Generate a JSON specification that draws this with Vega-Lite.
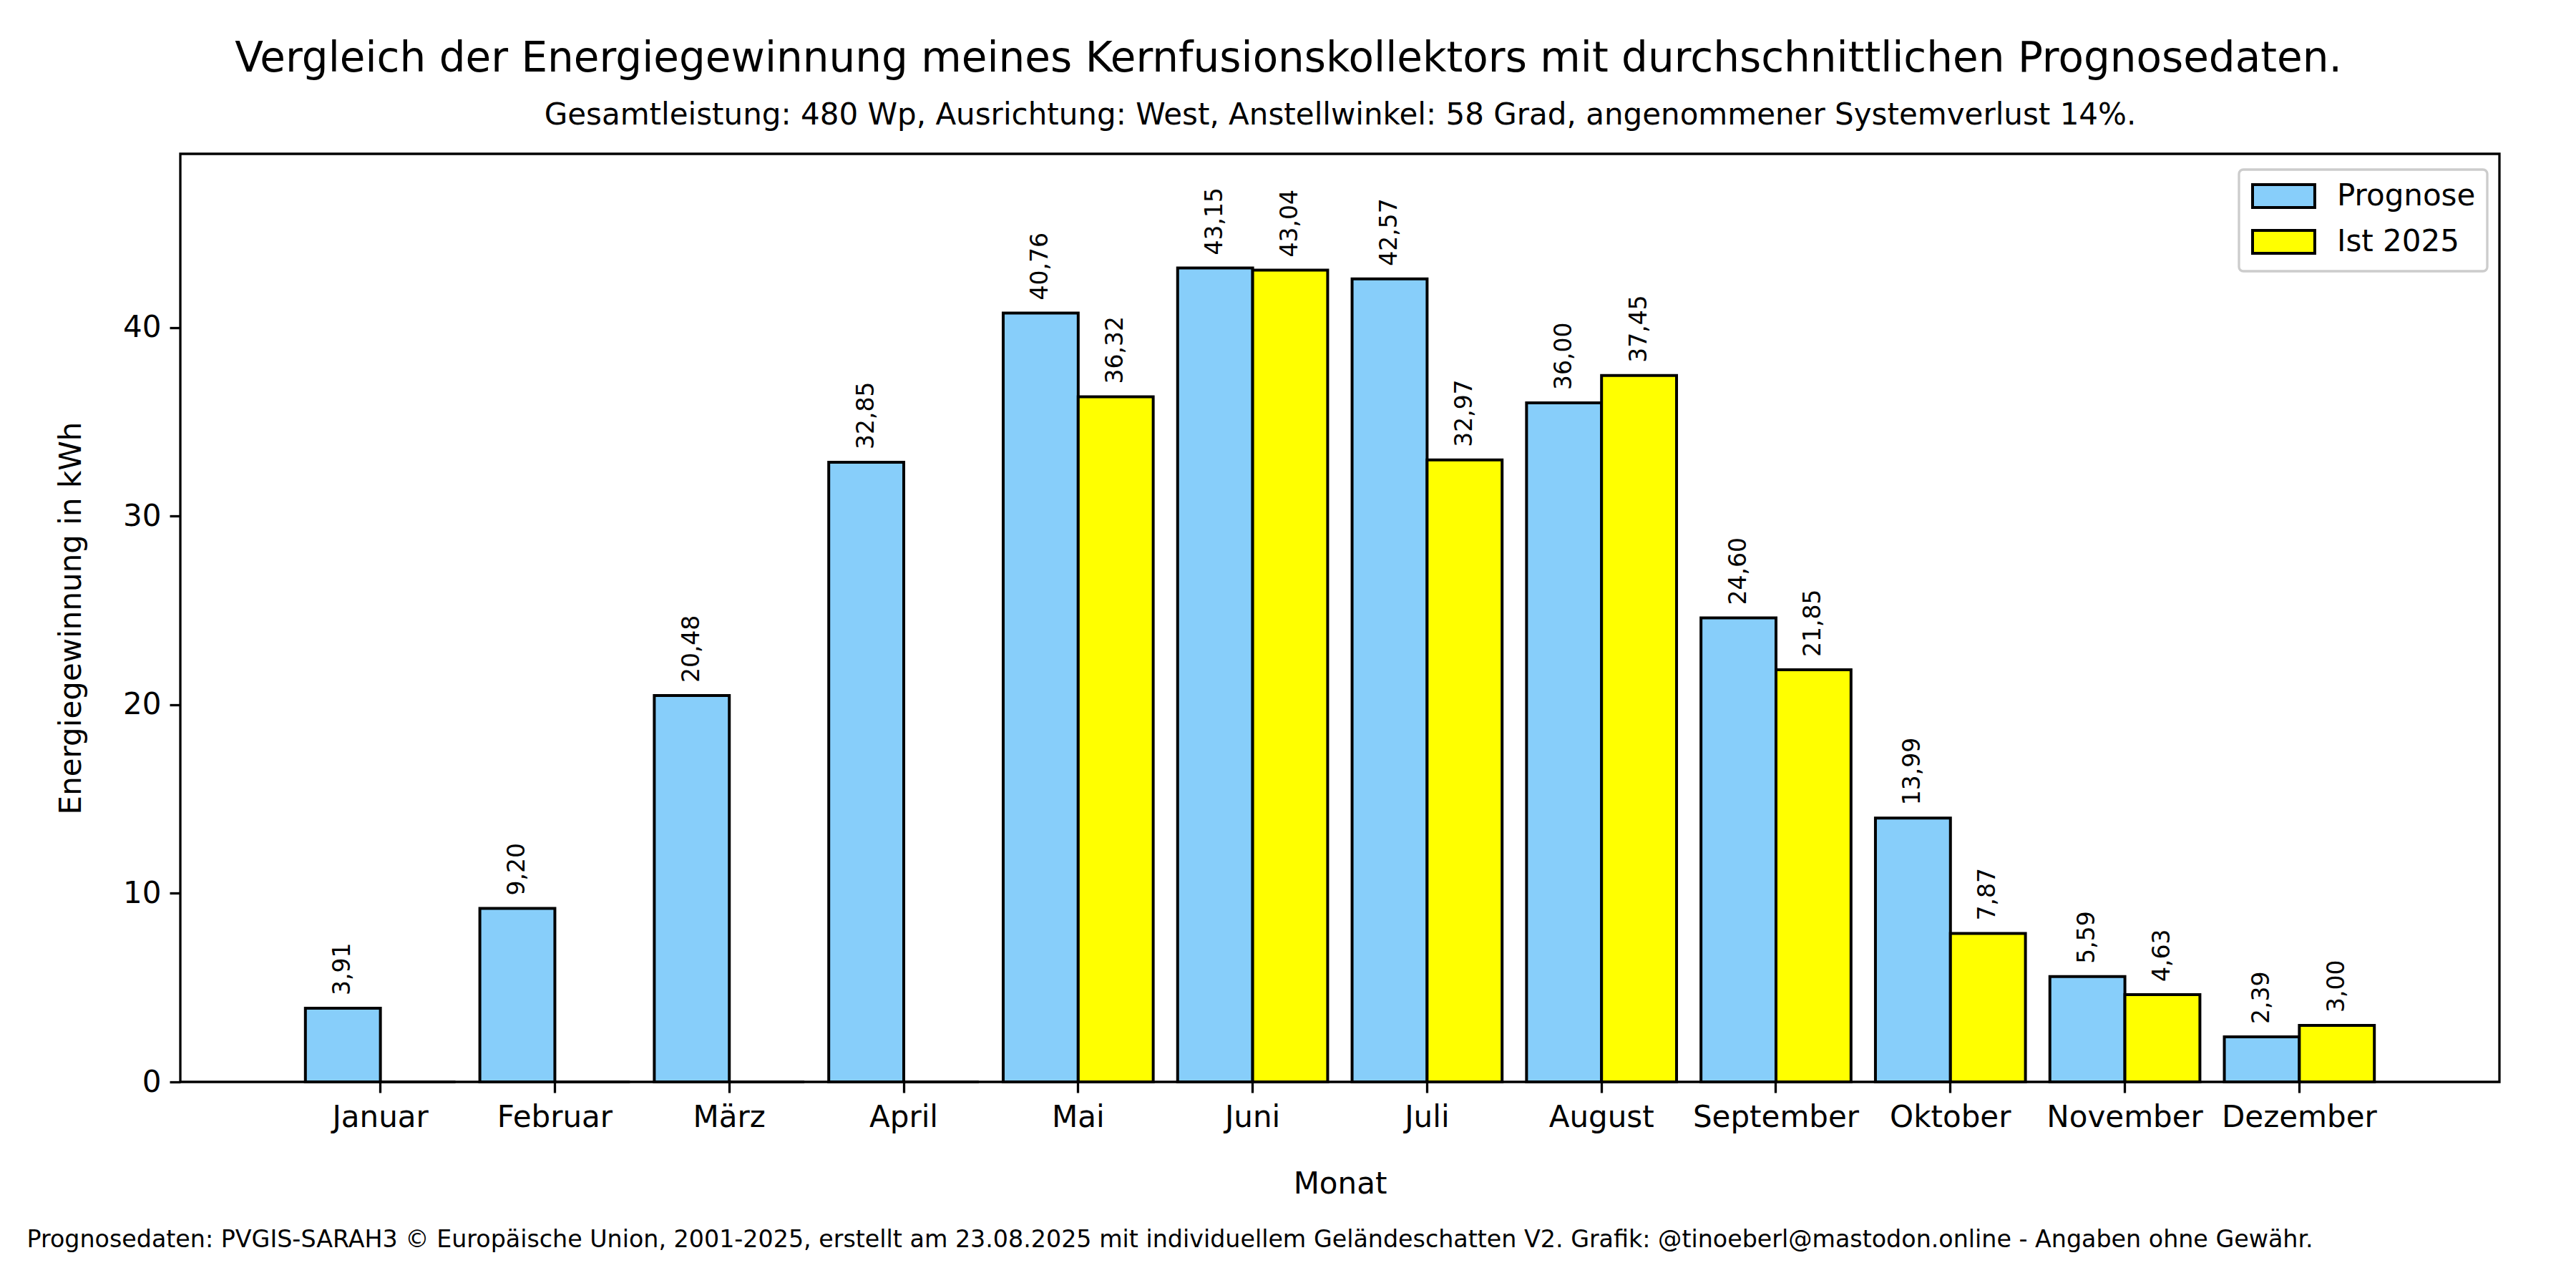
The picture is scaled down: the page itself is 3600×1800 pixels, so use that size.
{
  "$schema": "https://vega.github.io/schema/vega-lite/v6.json",
  "width": 3241,
  "height": 1297,
  "autosize": "none",
  "padding": {"left": 252, "top": 215, "right": 107, "bottom": 288},
  "background": "white",
  "config": {
    "font": "DejaVu Sans",
    "view": {"stroke": "black", "strokeWidth": 3.3},
    "locale": {"number": {"decimal": ",", "thousands": ".", "grouping": [3], "currency": ["", " €"]}}
  },
  "title": {
    "text": "Vergleich der Energiegewinnung meines Kernfusionskollektors mit durchschnittlichen Prognosedaten.",
    "fontSize": 58,
    "fontWeight": "normal",
    "color": "black",
    "anchor": "middle",
    "frame": "group",
    "baseline": "alphabetic",
    "dx": -72,
    "offset": -19
  },
  "data": {
    "values": [
      {"Monat": "Januar", "Serie": "Prognose", "Wert": 3.91},
      {"Monat": "Januar", "Serie": "Ist 2025", "Wert": 0},
      {"Monat": "Februar", "Serie": "Prognose", "Wert": 9.20},
      {"Monat": "Februar", "Serie": "Ist 2025", "Wert": 0},
      {"Monat": "März", "Serie": "Prognose", "Wert": 20.48},
      {"Monat": "März", "Serie": "Ist 2025", "Wert": 0},
      {"Monat": "April", "Serie": "Prognose", "Wert": 32.85},
      {"Monat": "April", "Serie": "Ist 2025", "Wert": 0},
      {"Monat": "Mai", "Serie": "Prognose", "Wert": 40.76},
      {"Monat": "Mai", "Serie": "Ist 2025", "Wert": 36.32},
      {"Monat": "Juni", "Serie": "Prognose", "Wert": 43.15},
      {"Monat": "Juni", "Serie": "Ist 2025", "Wert": 43.04},
      {"Monat": "Juli", "Serie": "Prognose", "Wert": 42.57},
      {"Monat": "Juli", "Serie": "Ist 2025", "Wert": 32.97},
      {"Monat": "August", "Serie": "Prognose", "Wert": 36.00},
      {"Monat": "August", "Serie": "Ist 2025", "Wert": 37.45},
      {"Monat": "September", "Serie": "Prognose", "Wert": 24.60},
      {"Monat": "September", "Serie": "Ist 2025", "Wert": 21.85},
      {"Monat": "Oktober", "Serie": "Prognose", "Wert": 13.99},
      {"Monat": "Oktober", "Serie": "Ist 2025", "Wert": 7.87},
      {"Monat": "November", "Serie": "Prognose", "Wert": 5.59},
      {"Monat": "November", "Serie": "Ist 2025", "Wert": 4.63},
      {"Monat": "Dezember", "Serie": "Prognose", "Wert": 2.39},
      {"Monat": "Dezember", "Serie": "Ist 2025", "Wert": 3.00}
    ]
  },
  "layer": [
    {
      "layer": [
        {
          "mark": {"type": "bar", "stroke": "black", "strokeWidth": 4},
          "encoding": {
            "x": {
              "field": "Monat", "type": "nominal",
              "sort": ["Januar", "Februar", "März", "April", "Mai", "Juni", "Juli", "August", "September", "Oktober", "November", "Dezember"],
              "scale": {"paddingInner": 0.14, "paddingOuter": 0.717},
              "axis": {
                "title": "Monat", "titleFontSize": 42, "titleFontWeight": "normal", "titleColor": "black", "titlePadding": 52,
                "labelFontSize": 42, "labelColor": "black", "labelPadding": 14, "labelAngle": 0, "labelLimit": 0,
                "tickSize": 15, "tickWidth": 3.3, "tickColor": "black", "domain": false, "grid": false
              }
            },
            "xOffset": {
              "field": "Serie", "type": "nominal", "sort": ["Prognose", "Ist 2025"],
              "scale": {"paddingInner": 0, "paddingOuter": 0}
            },
            "y": {
              "field": "Wert", "type": "quantitative",
              "scale": {"domain": [0, 49.2], "nice": false},
              "axis": {
                "title": "Energiegewinnung in kWh", "titleFontSize": 42, "titleFontWeight": "normal", "titleColor": "black", "titlePadding": 50,
                "values": [0, 10, 20, 30, 40], "labelFontSize": 42, "labelColor": "black", "labelPadding": 12,
                "tickSize": 15, "tickWidth": 3.3, "tickColor": "black", "domain": false, "grid": false
              }
            },
            "color": {
              "field": "Serie", "type": "nominal",
              "scale": {"domain": ["Prognose", "Ist 2025"], "range": ["#87CEFA", "#FFFF00"]},
              "legend": {
                "title": null, "orient": "none", "legendX": 2877, "legendY": 22, "direction": "vertical",
                "padding": 16, "strokeColor": "#cccccc", "fillColor": "white", "cornerRadius": 6,
                "symbolType": "M-1,-0.89H3.83V0.89H-1Z", "symbolSize": 1296, "symbolStrokeColor": "black", "symbolStrokeWidth": 4, "symbolOpacity": 1,
                "labelFontSize": 42, "labelColor": "black", "labelOffset": 79, "labelLimit": 0, "rowPadding": 14,
                "encode": {"legend": {"update": {"strokeWidth": {"value": 3.3}}}}
              }
            }
          }
        },
        {
          "transform": [{"filter": "datum.Wert > 0"}],
          "mark": {"type": "text", "angle": 270, "align": "left", "baseline": "middle", "dx": 18, "fontSize": 33, "color": "black"},
          "encoding": {
            "x": {
              "field": "Monat", "type": "nominal",
              "sort": ["Januar", "Februar", "März", "April", "Mai", "Juni", "Juli", "August", "September", "Oktober", "November", "Dezember"]
            },
            "xOffset": {"field": "Serie", "type": "nominal", "sort": ["Prognose", "Ist 2025"]},
            "y": {"field": "Wert", "type": "quantitative"},
            "text": {"field": "Wert", "type": "quantitative", "format": ".2f"}
          }
        }
      ]
    },
    {
      "mark": {"type": "point", "opacity": 0},
      "encoding": {
        "x": {
          "field": "Monat", "type": "nominal",
          "axis": {
            "orient": "top", "labels": false, "ticks": false, "domain": false, "grid": false,
            "title": "Gesamtleistung: 480 Wp, Ausrichtung: West, Anstellwinkel: 58 Grad, angenommener Systemverlust 14%.",
            "titleFontSize": 42, "titleFontWeight": "normal", "titleColor": "black", "titleBaseline": "alphabetic", "titlePadding": 42, "titleLimit": 0
          }
        }
      }
    },
    {
      "mark": {"type": "point", "opacity": 0},
      "encoding": {
        "x": {
          "field": "Monat", "type": "nominal",
          "axis": {
            "orient": "bottom", "labels": false, "ticks": false, "domain": false, "grid": false,
            "title": "Prognosedaten: PVGIS-SARAH3 © Europäische Union, 2001-2025, erstellt am 23.08.2025 mit individuellem Geländeschatten V2. Grafik: @tinoeberl@mastodon.online - Angaben ohne Gewähr.",
            "titleFontSize": 33.3, "titleFontWeight": "normal", "titleColor": "black", "titleLimit": 0,
            "titleAnchor": "start", "titleAlign": "left", "titleX": -215, "titlePadding": 204
          }
        }
      }
    }
  ],
  "resolve": {"scale": {"x": "independent"}, "axis": {"x": "independent"}}
}
